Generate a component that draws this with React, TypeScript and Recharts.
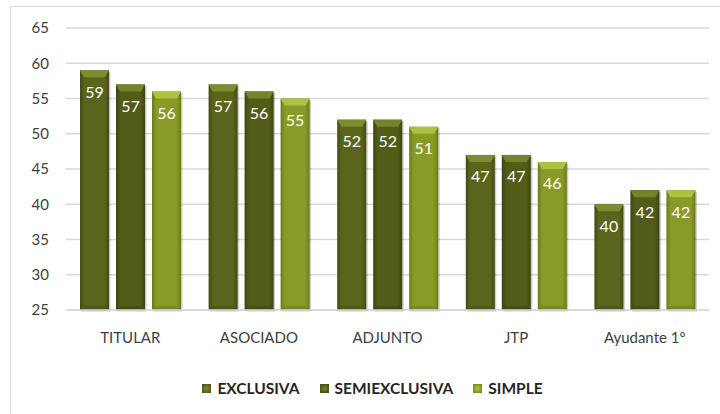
import React from 'react';
import { BarChart, Bar, XAxis, YAxis, CartesianGrid, LabelList, Legend } from 'recharts';

const categories = ['TITULAR', 'ASOCIADO', 'ADJUNTO', 'JTP', 'Ayudante 1º'];
const exclusiva = [59, 57, 52, 47, 40];
const semiexclusiva = [57, 56, 52, 47, 42];
const simple = [56, 55, 51, 46, 42];
const yTicks = [25, 30, 35, 40, 45, 50, 55, 60, 65];

const data = categories.map((name, i) => ({
  name,
  exclusiva: exclusiva[i],
  semiexclusiva: semiexclusiva[i],
  simple: simple[i],
}));

type S = { key: string; name: string; base: string; dark: string; light: string };
const SERIES: S[] = [
  { key: 'exclusiva', name: 'EXCLUSIVA', base: '#5a641c', dark: '#434b12', light: '#7e8b30' },
  { key: 'semiexclusiva', name: 'SEMIEXCLUSIVA', base: '#525c18', dark: '#3c440e', light: '#76832a' },
  { key: 'simple', name: 'SIMPLE', base: '#8a9a28', dark: '#6c7a1a', light: '#afc043' },
];

const makeShape = (s: S) => (props: any) => {
  const { x, y, width, height } = props;
  if (!height || height <= 0) return null;
  const b = Math.min(7, height / 2);
  return (
    <g>
      <rect x={x + 1.5} y={y + 1.5} width={width} height={height} fill="#000" opacity={0.2} />
      <rect x={x} y={y} width={width} height={height} fill={`url(#g-${s.key})`} />
      <polygon
        points={`${x},${y} ${x + width},${y} ${x + width - 4},${y + b} ${x + 4},${y + b}`}
        fill={s.light}
      />
      <polygon
        points={`${x},${y + height} ${x + width},${y + height} ${x + width - 4},${y + height - 4} ${x + 4},${y + height - 4}`}
        fill={s.dark}
        opacity={0.5}
      />
    </g>
  );
};

const LegendContent = () => (
  <div
    style={{
      display: 'flex',
      justifyContent: 'center',
      alignItems: 'center',
      fontFamily: 'Lato',
      fontWeight: 700,
      fontSize: 15.5,
      color: '#262626',
      height: 20,
      paddingLeft: 26,
    }}
  >
    {SERIES.map((s, i) => (
      <div key={s.key} style={{ display: 'flex', alignItems: 'center', marginLeft: i === 0 ? 0 : 20 }}>
        <div
          style={{
            width: 9,
            height: 9,
            marginRight: 6,
            background: `radial-gradient(circle, ${s.light} 0%, ${s.base} 60%, ${s.dark} 100%)`,
          }}
        />
        <span>{s.name}</span>
      </div>
    ))}
  </div>
);

export default function App() {
  return (
    <div style={{ position: 'relative', width: 720, height: 414, overflow: 'hidden' }}>
      <style>{'body{margin:0;overflow:hidden;}'}</style>
      <div
        style={{
          position: 'absolute',
          left: 10,
          top: 6,
          width: 730,
          height: 430,
          border: '1px solid #d9d9d9',
          boxSizing: 'border-box',
        }}
      />
      <div style={{ position: 'absolute', left: 0, top: 0 }}>
        <BarChart
          width={720}
          height={414}
          data={data}
          margin={{ top: 28, right: 11, left: 10, bottom: 16 }}
          barSize={29}
          barGap={7}
          style={{ fontFamily: 'Lato' }}
        >
          <defs>
            {SERIES.map((s) => (
              <linearGradient key={s.key} id={`g-${s.key}`} x1="0" y1="0" x2="1" y2="0">
                <stop offset="0%" stopColor={s.dark} />
                <stop offset="15%" stopColor={s.base} />
                <stop offset="85%" stopColor={s.base} />
                <stop offset="100%" stopColor={s.dark} />
              </linearGradient>
            ))}
          </defs>
          <CartesianGrid vertical={false} stroke="#d9d9d9" strokeWidth={1.5} />
          <XAxis
            dataKey="name"
            height={68}
            tickLine={false}
            axisLine={{ stroke: '#d9d9d9', strokeWidth: 1.5 }}
            tickMargin={16}
            tick={{ fill: '#404040', fontSize: 15 }}
          />
          <YAxis
            domain={[25, 65]}
            ticks={yTicks}
            width={56}
            tickLine={false}
            axisLine={false}
            tickMargin={11}
            tick={{ fill: '#404040', fontSize: 15 }}
            interval={0}
          />
          <Legend verticalAlign="bottom" content={<LegendContent />} />
          {SERIES.map((s) => (
            <Bar
              key={s.key}
              dataKey={s.key}
              name={s.name}
              fill={s.base}
              isAnimationActive={false}
              shape={makeShape(s)}
            >
              <LabelList
                dataKey={s.key}
                position="insideTop"
                offset={16}
                fill="#ffffff"
                fontSize={16}
                fontFamily="Lato"
              />
            </Bar>
          ))}
        </BarChart>
      </div>
    </div>
  );
}
